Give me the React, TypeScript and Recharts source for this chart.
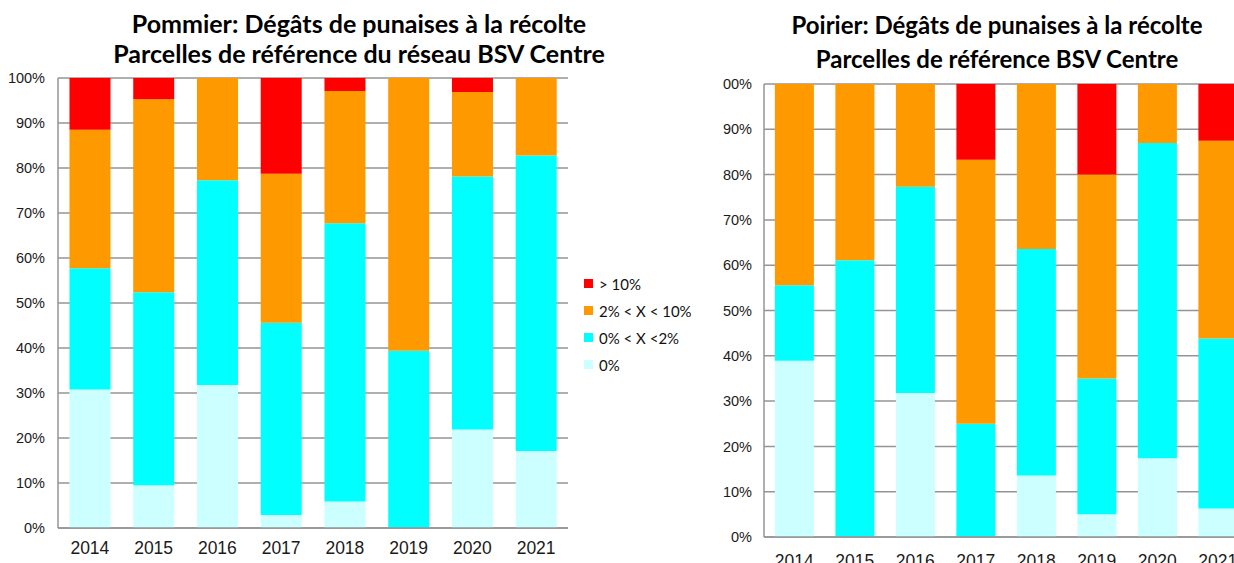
import React from 'react';
import { BarChart, Bar, XAxis, YAxis, CartesianGrid, Legend } from 'recharts';

const years = ['2014', '2015', '2016', '2017', '2018', '2019', '2020', '2021'];
const yTicks = [0, 10, 20, 30, 40, 50, 60, 70, 80, 90, 100];

// Pommier (apple) – share of plots per damage class, %
const pomZero = [30.8, 9.5, 31.8, 2.9, 5.9, 0, 21.9, 17.1];
const pomLow = [26.9, 42.9, 45.5, 42.7, 61.8, 39.4, 56.2, 65.7];
const pomMid = [30.8, 42.9, 22.7, 33.1, 29.4, 60.6, 18.8, 17.2];
const pomHigh = [11.5, 4.7, 0, 21.3, 2.9, 0, 3.1, 0];

// Poirier (pear)
const poiZero = [38.9, 0, 31.8, 0, 13.6, 5.0, 17.4, 6.3];
const poiLow = [16.7, 61.1, 45.5, 25.0, 50.0, 30.0, 69.6, 37.5];
const poiMid = [44.4, 38.9, 22.7, 58.3, 36.4, 45.0, 13.0, 43.7];
const poiHigh = [0, 0, 0, 16.7, 0, 20.0, 0, 12.5];

const seriesKeys = ['zero', 'low', 'mid', 'high'];
const seriesNames = ['0%', '0% < X <2%', '2% < X < 10%', '> 10%'];
const seriesColors = ['#CCFFFF', '#00FFFF', '#FF9900', '#FF0000'];

const build = (z: number[], l: number[], m: number[], h: number[]) =>
  years.map((y, i) => ({ year: y, zero: z[i], low: l[i], mid: m[i], high: h[i] }));

const pomData = build(pomZero, pomLow, pomMid, pomHigh);
const poiData = build(poiZero, poiLow, poiMid, poiHigh);

const GRID = '#959595';
const tickFont = { fontFamily: '"Liberation Sans", Arial, sans-serif', fill: '#1a1a1a' };
const titleFont = 'Lato, "Open Sans", sans-serif';

const LegendBox = () => (
  <div style={{ fontFamily: titleFont, fontSize: 15, color: '#111' }}>
    {[3, 2, 1, 0].map(i => (
      <div key={i} style={{ display: 'flex', alignItems: 'center', height: 27 }}>
        <span style={{ display: 'inline-block', width: 9, height: 9, background: seriesColors[i], marginRight: 6 }} />
        <span>{seriesNames[i]}</span>
      </div>
    ))}
  </div>
);

const App: React.FC = () => {
  return (
    <div style={{ position: 'fixed', left: 0, top: 0, width: 1234, height: 563, overflow: 'hidden', background: '#fff' }}>
      {/* Left title */}
      <div style={{ position: 'absolute', left: 59, width: 600, top: 8, textAlign: 'center', fontFamily: titleFont, fontWeight: 700, fontSize: 25, lineHeight: '30px', color: '#000' }}>
        <div>Pommier: Dégâts de punaises à la récolte</div>
        <div>Parcelles de référence du réseau BSV Centre</div>
      </div>

      {/* Left chart */}
      <div style={{ position: 'absolute', left: 0, top: 0 }}>
        <BarChart width={580} height={563} data={pomData} margin={{ top: 78, right: 12, bottom: 5, left: 8 }} barCategoryGap="18%">
          <CartesianGrid vertical={false} stroke={GRID} strokeWidth={1.5} />
          <XAxis dataKey="year" height={30} tickLine={false} axisLine={{ stroke: GRID, strokeWidth: 1.5 }} tickMargin={8} tick={{ ...tickFont, fontSize: 17.5 }} />
          <YAxis width={50} domain={[0, 100]} ticks={yTicks} allowDataOverflow tickLine={false} axisLine={{ stroke: GRID, strokeWidth: 1.5 }} tickMargin={7} tickFormatter={(v: number) => `${v}%`} tick={{ ...tickFont, fontSize: 14.5 }} />
          {seriesKeys.map((k, i) => (
            <Bar key={k} dataKey={k} name={seriesNames[i]} stackId="a" fill={seriesColors[i]} isAnimationActive={false} />
          ))}
          <Legend layout="vertical" align="center" verticalAlign="middle" content={() => <LegendBox />} wrapperStyle={{ left: 584, top: 270, width: 140 }} />
        </BarChart>
      </div>

      {/* Right title */}
      <div style={{ position: 'absolute', left: 697, width: 600, top: 8, textAlign: 'center', fontFamily: titleFont, fontWeight: 700, fontSize: 24, lineHeight: '34px', color: '#000' }}>
        <div>Poirier: Dégâts de punaises à la récolte</div>
        <div>Parcelles de référence BSV Centre</div>
      </div>

      {/* Right chart, cropped like the reference */}
      <div style={{ position: 'absolute', left: 723, top: 0, width: 511, height: 563, overflow: 'hidden' }}>
        <div style={{ position: 'absolute', left: -17, top: 0 }}>
          <BarChart width={547} height={575} data={poiData} margin={{ top: 84, right: 5, bottom: 8, left: 8 }} barCategoryGap="18%">
            <CartesianGrid vertical={false} stroke={GRID} strokeWidth={1.5} />
            <XAxis dataKey="year" height={30} tickLine={false} axisLine={{ stroke: GRID, strokeWidth: 1.5 }} tickMargin={12} tick={{ ...tickFont, fontSize: 17.5 }} />
            <YAxis width={50} domain={[0, 100]} ticks={yTicks} allowDataOverflow tickLine={false} axisLine={{ stroke: GRID, strokeWidth: 1.5 }} tickMargin={6} tickFormatter={(v: number) => `${v}%`} tick={{ ...tickFont, fontSize: 14.5 }} />
            {seriesKeys.map((k, i) => (
              <Bar key={k} dataKey={k} name={seriesNames[i]} stackId="a" fill={seriesColors[i]} isAnimationActive={false} />
            ))}
          </BarChart>
        </div>
      </div>
    </div>
  );
};

export default App;
